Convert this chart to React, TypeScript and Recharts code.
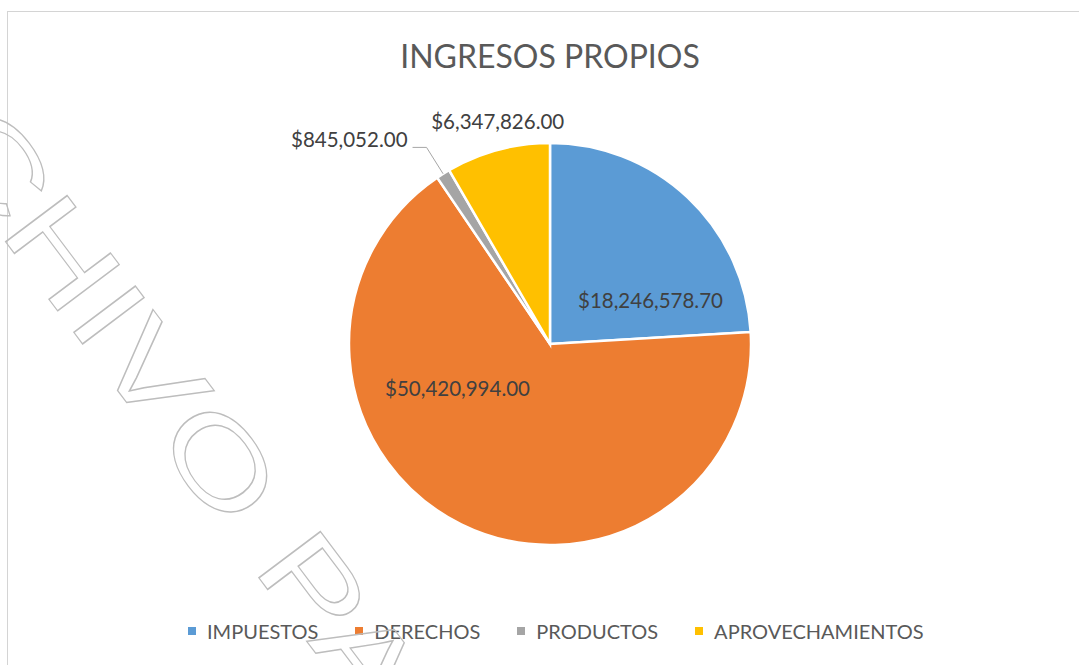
import { PieChart, Pie, Cell, Legend } from "recharts";

const CATEGORIES = ["IMPUESTOS", "DERECHOS", "PRODUCTOS", "APROVECHAMIENTOS"];
const VALUES = [18246578.7, 50420994.0, 845052.0, 6347826.0];
const COLORS = ["#5B9BD5", "#ED7D31", "#A5A5A5", "#FFC000"];
const TITLE = "INGRESOS PROPIOS";
const WATERMARK = "ARCHIVO PA";

// label anchors relative to the pie centre, in units of the outer radius
const LABEL_POS = [[0.5, -0.22], [-0.46, 0.22], null, [-0.26, -1.11]];

const data = CATEGORIES.map((name, i) => ({ name, value: VALUES[i] }));

const fmt = (v: number) =>
  "$" + v.toLocaleString("en-US", { minimumFractionDigits: 2, maximumFractionDigits: 2 });

const FONT = "Lato, 'Open Sans', sans-serif";
const RAD = Math.PI / 180;

function renderLabel(props: any) {
  const { cx, cy, outerRadius, midAngle, index, value } = props;
  const text = fmt(value);
  if (index === 2) {
    const cos = Math.cos(-midAngle * RAD);
    const sin = Math.sin(-midAngle * RAD);
    const x0 = cx + outerRadius * cos;
    const y0 = cy + outerRadius * sin;
    const x1 = cx + outerRadius * 1.155 * cos;
    const y1 = cy + outerRadius * 1.155 * sin;
    const x2 = x1 - 14;
    return (
      <g>
        <polyline points={`${x0},${y0} ${x1},${y1} ${x2},${y1}`} fill="none" stroke="#A6A6A6" strokeWidth={1} />
        <text x={x2 - 5} y={y1 - 8} textAnchor="end" dominantBaseline="central" fill="#404040" fontSize={20.5} fontFamily={FONT}>
          {text}
        </text>
      </g>
    );
  }
  const [fx, fy] = LABEL_POS[index] as number[];
  return (
    <text x={cx + fx * outerRadius} y={cy + fy * outerRadius} textAnchor="middle" dominantBaseline="central" fill="#404040" fontSize={20.5} fontFamily={FONT}>
      {text}
    </text>
  );
}

function renderLegend(props: any) {
  const items = [...(props.payload || [])].sort(
    (a: any, b: any) => CATEGORIES.indexOf(a.value) - CATEGORIES.indexOf(b.value)
  );
  return (
    <div style={{ display: "flex", justifyContent: "flex-start", paddingLeft: 188, fontFamily: FONT, fontSize: 20, color: "#595959" }}>
      {items.map((p: any) => (
        <div key={p.value} style={{ display: "flex", alignItems: "center", marginRight: 37 }}>
          <span style={{ width: 8, height: 8, background: p.color, marginRight: 11, display: "inline-block" }} />
          <span>{p.value}</span>
        </div>
      ))}
    </div>
  );
}

export default function App() {
  return (
    <div style={{ position: "absolute", left: 0, top: 0, width: 1079, height: 665, overflow: "hidden", background: "#fff" }}>
      <div style={{ position: "absolute", left: 7, top: 11, width: 1200, height: 800, borderLeft: "1px solid #D4D4D4", borderTop: "1px solid #D4D4D4" }} />
      <div style={{ position: "absolute", left: 0, top: 36, width: 1100, textAlign: "center", fontFamily: FONT, fontSize: 32, color: "#595959", lineHeight: "40px" }}>
        {TITLE}
      </div>
      <div style={{ position: "absolute", left: 0, top: 0 }}>
        <PieChart width={1079} height={665} margin={{ top: 0, right: 0, bottom: 0, left: 0 }}>
          <Pie
            data={data}
            dataKey="value"
            nameKey="name"
            cx={550}
            cy={344}
            outerRadius={201}
            startAngle={90}
            endAngle={-270}
            stroke="#fff"
            strokeWidth={2.5}
            label={renderLabel}
            labelLine={false}
            isAnimationActive={false}
          >
            {data.map((d, i) => (
              <Cell key={d.name} fill={COLORS[i]} />
            ))}
          </Pie>
          <Legend verticalAlign="bottom" content={renderLegend} wrapperStyle={{ top: 619, bottom: "auto", left: 0, width: 1079 }} />
        </PieChart>
      </div>
      <svg width={1079} height={665} style={{ position: "absolute", left: 0, top: 0, pointerEvents: "none" }}>
        <g transform="translate(9.3,246.7) rotate(53) scale(1.38,1)">
          <text x={-250} y={0} fontFamily="'Liberation Sans', Arial, sans-serif" fontSize={112} fill="none" stroke="#BDBDBD" strokeWidth={1.4} vectorEffect="non-scaling-stroke">
            {WATERMARK}
          </text>
        </g>
      </svg>
    </div>
  );
}
